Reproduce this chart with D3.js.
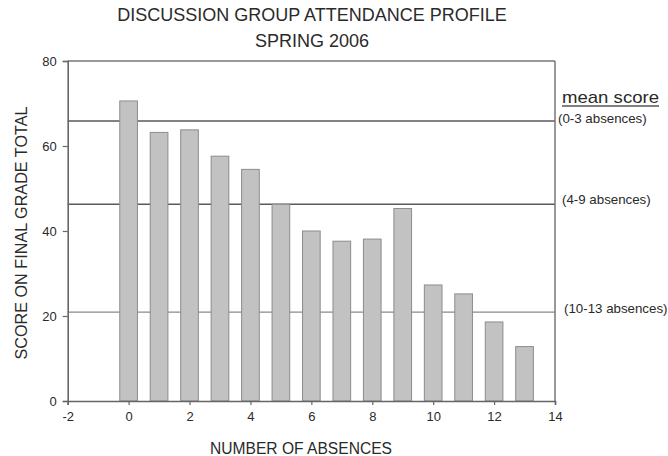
<!DOCTYPE html>
<html>
<head>
<meta charset="utf-8">
<script src="https://cdn.jsdelivr.net/npm/d3@7"></script>
<style>
  html, body { margin: 0; padding: 0; background: #fff; }
  svg { display: block; font-family: "Liberation Sans", Arial, sans-serif; }
</style>
</head>
<body>
<svg id="chart" width="668" height="456"></svg>
<script>
// ---- data ----
const absences = [0, 1, 2, 3, 4, 5, 6, 7, 8, 9, 10, 11, 12, 13];
const scores = [70.6, 63.2, 63.8, 57.6, 54.5, 46.3, 40.0, 37.6, 38.1, 45.3, 27.3, 25.2, 18.6, 12.8];
const meanLabels = ["(0-3 absences)", "(4-9 absences)", "(10-13 absences)"];
const meanValues = [65.9, 46.3, 20.9];
const xTicks = [-2, 0, 2, 4, 6, 8, 10, 12, 14];
const yTicks = [0, 20, 40, 60, 80];
const titleLines = ["DISCUSSION GROUP ATTENDANCE PROFILE", "SPRING 2006"];

// ---- layout ----
const svg = d3.select("#chart");
const pL = 67.7, pR = 555, pT = 61, pB = 401;
const x = d3.scaleLinear().domain([-2, 14]).range([pL, pR]);
const y = d3.scaleLinear().domain([0, 80]).range([pB, pT]);
const barW = 0.58;
const textColor = "#2a2a2a";

// mean lines (behind bars)
const meanStroke = ["#5a5a5a", "#5a5a5a", "#8a8a8a"];
const meanWidth = [1.6, 1.6, 1.2];
svg.append("g").selectAll("line").data(meanValues).join("line")
  .attr("x1", x(-2)).attr("x2", x(14))
  .attr("y1", d => y(d)).attr("y2", d => y(d))
  .attr("stroke", (d, i) => meanStroke[i])
  .attr("stroke-width", (d, i) => meanWidth[i]);

// bars
svg.append("g").selectAll("rect").data(absences).join("rect")
  .attr("x", d => x(d - barW / 2))
  .attr("width", d => x(d + barW / 2) - x(d - barW / 2))
  .attr("y", (d, i) => y(scores[i]))
  .attr("height", (d, i) => y(0) - y(scores[i]))
  .attr("fill", "#c2c2c2")
  .attr("stroke", "#8c8c8c")
  .attr("stroke-width", 1);

// frame top and right
svg.append("line").attr("x1", x(-2)).attr("x2", x(14)).attr("y1", y(80)).attr("y2", y(80))
  .attr("stroke", "#777").attr("stroke-width", 1.5);
svg.append("line").attr("x1", x(14)).attr("x2", x(14)).attr("y1", y(80)).attr("y2", y(0))
  .attr("stroke", "#777").attr("stroke-width", 1.5);

// axes
const fmt = d => String(d);
const xAxis = svg.append("g").attr("transform", `translate(0,${pB})`)
  .call(d3.axisBottom(x).tickValues(xTicks).tickSize(4).tickPadding(7).tickFormat(fmt));
const yAxis = svg.append("g").attr("transform", `translate(${pL},0)`)
  .call(d3.axisLeft(y).tickValues(yTicks).tickSize(5).tickPadding(6).tickFormat(fmt));
[xAxis, yAxis].forEach(g => {
  g.select(".domain").attr("stroke", "#666").attr("stroke-width", 1.6);
  g.selectAll(".tick line").attr("stroke", "#666").attr("stroke-width", 1.2);
  g.selectAll(".tick text").attr("fill", textColor).style("font-size", "13px")
    .style("font-family", "'Liberation Sans', Arial, sans-serif");
});

// title
svg.append("g").selectAll("text").data(titleLines).join("text")
  .attr("x", 312).attr("y", (d, i) => 21 + i * 26)
  .attr("text-anchor", "middle")
  .attr("fill", textColor)
  .style("font-size", "18px")
  .text(d => d);

// axis titles
svg.append("text").attr("x", 301).attr("y", 454)
  .attr("text-anchor", "middle").attr("fill", textColor)
  .style("font-size", "15.6px").text("NUMBER OF ABSENCES");
svg.append("text")
  .attr("transform", `translate(27,${(pT + pB) / 2 + 2}) rotate(-90)`)
  .attr("text-anchor", "middle").attr("fill", textColor)
  .style("font-size", "16.2px").text("SCORE ON FINAL GRADE TOTAL");

// right-side legend
svg.append("text").attr("x", x(14) + 7).attr("y", 103)
  .attr("fill", textColor).style("font-size", "17px")
  .attr("textLength", 97).attr("lengthAdjust", "spacingAndGlyphs")
  .text("mean score");
svg.append("line").attr("x1", x(14) + 7).attr("x2", x(14) + 104).attr("y1", 106).attr("y2", 106)
  .attr("stroke", "#555").attr("stroke-width", 1.3);

const labelDx = [3, 7, 9];
const labelDy = [-1, -4, -3];
svg.append("g").selectAll("text").data(meanLabels).join("text")
  .attr("x", (d, i) => x(14) + labelDx[i])
  .attr("y", (d, i) => y(meanValues[i]) + labelDy[i])
  .attr("dominant-baseline", "middle")
  .attr("fill", textColor)
  .style("font-size", "13.3px")
  .text(d => d);
</script>
</body>
</html>
